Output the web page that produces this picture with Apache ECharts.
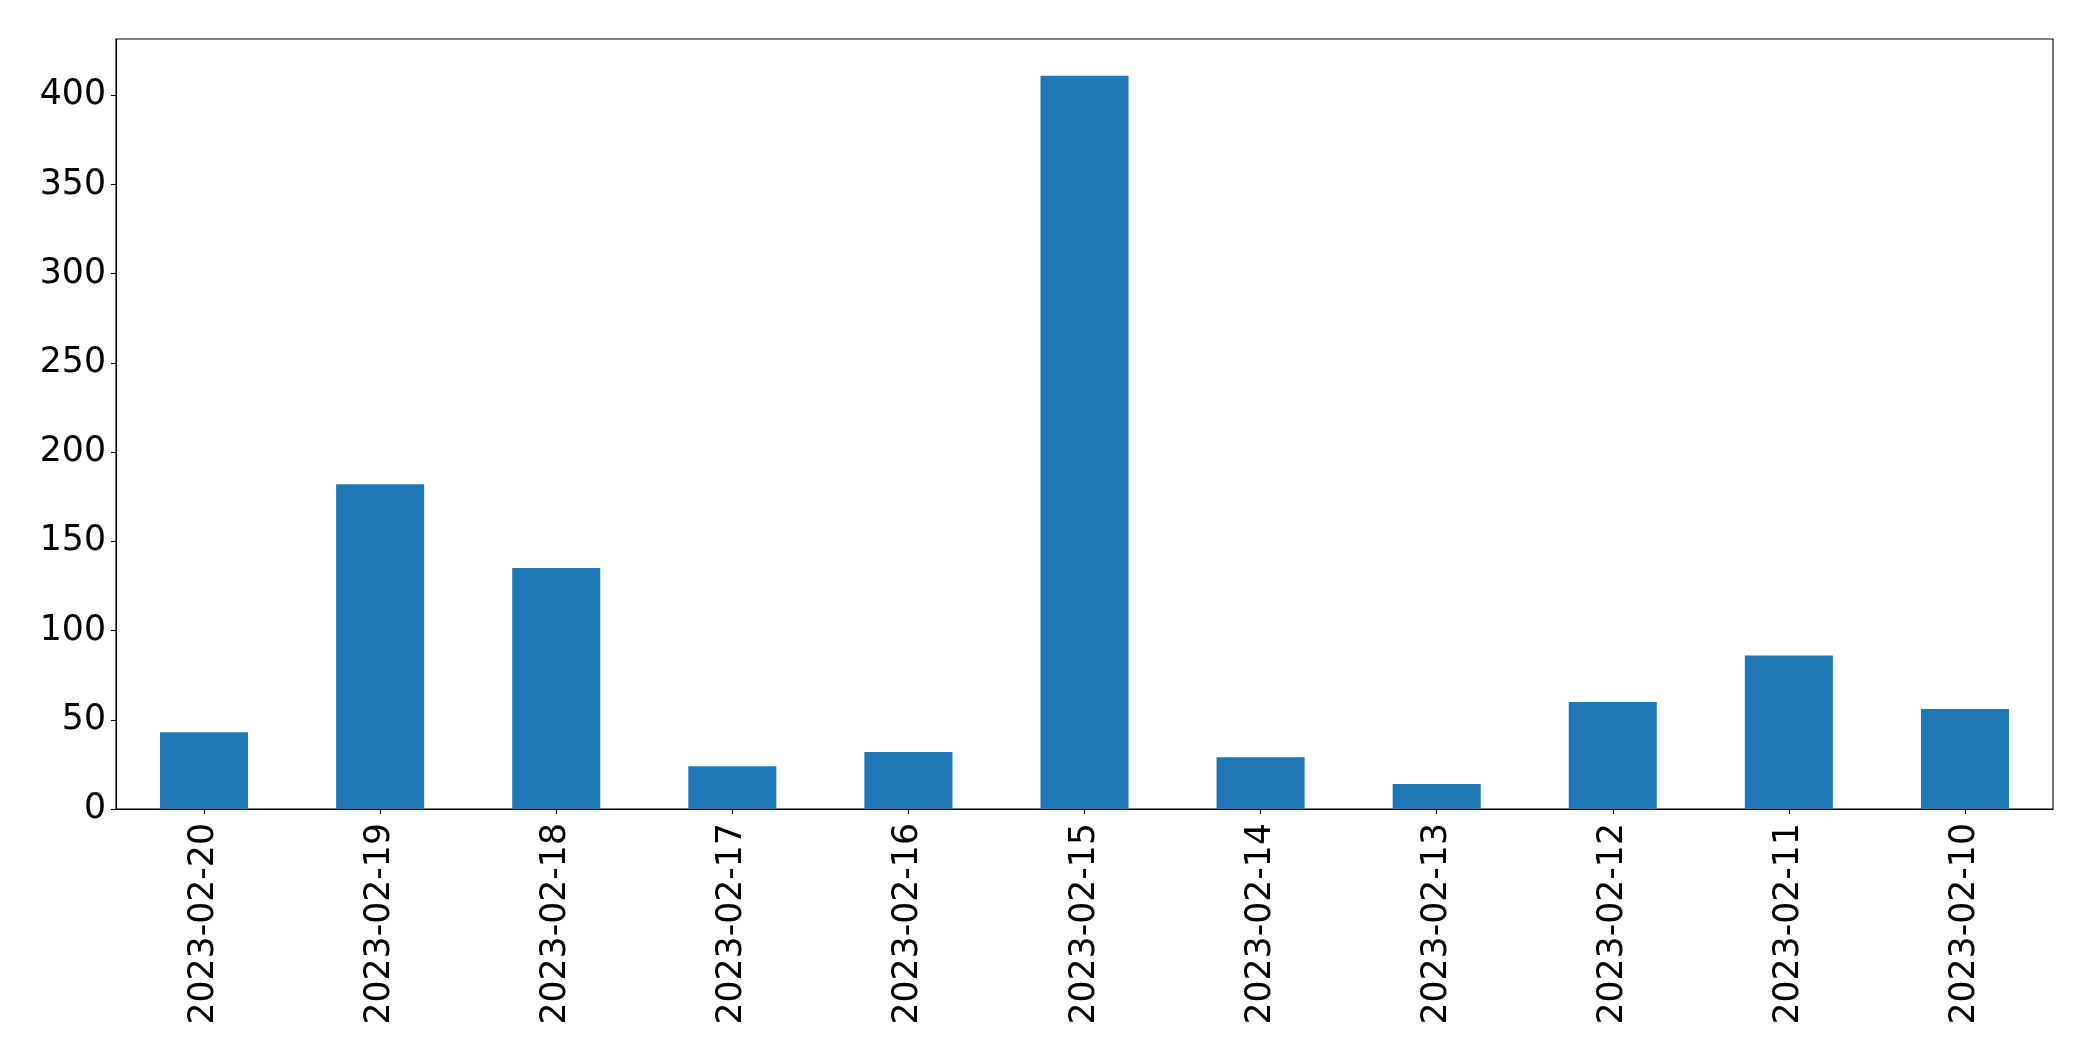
<!DOCTYPE html>
<html>
<head>
<meta charset="utf-8">
<script src="https://cdn.jsdelivr.net/npm/echarts@6/dist/echarts.min.js"></script>
<style>
html,body{margin:0;padding:0;background:#fff;}
#c{width:2093px;height:1061px;}
</style>
</head>
<body>
<div id="c"></div>
<script>
const categories = ["2023-02-20","2023-02-19","2023-02-18","2023-02-17","2023-02-16","2023-02-15","2023-02-14","2023-02-13","2023-02-12","2023-02-11","2023-02-10"];
const values = [43, 182, 135, 24, 32, 411, 29, 14, 60, 86, 56];
const yTicks = [0, 50, 100, 150, 200, 250, 300, 350, 400];

const yMax = Math.max(...values) * 1.05;
const font = "DejaVu Sans";

const chart = echarts.init(document.getElementById('c'), null, {renderer: 'canvas'});
chart.setOption({
  animation: false,
  backgroundColor: '#fff',
  grid: {
    left: 116, right: 40, top: 39, bottom: 252,
    show: true, borderColor: '#000', borderWidth: 1.1, backgroundColor: 'transparent'
  },
  xAxis: {
    type: 'category',
    data: categories,
    axisLine: {show: true, lineStyle: {color: '#000', width: 1.1}},
    axisTick: {show: true, alignWithLabel: true, length: 5, lineStyle: {color: '#000', width: 1.1}},
    axisLabel: {rotate: 90, margin: 14, color: '#000', fontFamily: font, fontSize: 34.7, interval: 0},
    splitLine: {show: false}
  },
  yAxis: {
    type: 'value',
    min: 0,
    max: yMax,
    interval: 50,
    axisLine: {show: true, lineStyle: {color: '#000', width: 1.1}},
    axisTick: {show: true, length: 5, lineStyle: {color: '#000', width: 1.1}},
    axisLabel: {
      margin: 10, color: '#000', fontFamily: font, fontSize: 34.7,
      showMaxLabel: false,
      formatter: function (v) { return yTicks.indexOf(v) >= 0 ? String(v) : ''; }
    },
    splitLine: {show: false}
  },
  series: [{
    type: 'bar',
    data: values,
    barWidth: '50%',
    itemStyle: {color: '#1f77b4'}
  }]
});
</script>
</body>
</html>
